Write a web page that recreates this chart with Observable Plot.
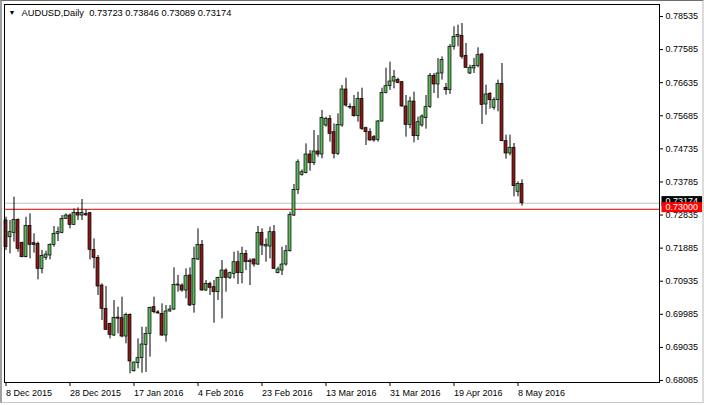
<!DOCTYPE html>
<html><head><meta charset="utf-8">
<script src="https://cdn.jsdelivr.net/npm/d3@7"></script>
<script src="https://cdn.jsdelivr.net/npm/@observablehq/plot@0.6"></script>
<style>
html,body{margin:0;padding:0;background:#fff;}
#wrap{position:relative;width:704px;height:405px;overflow:hidden;background:#fff;}
#wrap svg{display:block;}
#border{position:absolute;left:0;top:0;width:704px;height:403px;box-sizing:border-box;border-top:1px solid #6e6e6e;border-left:2px solid #a0a0a0;border-right:2px solid #dcdcdc;border-bottom:1px solid #c8c8c8;pointer-events:none;}
</style></head><body>
<div id="wrap"><div id="border"></div></div>
<script>
const symbol = "AUDUSD";
const timeframe = "Daily";

const opens = [0.72678,0.72199,0.72324,0.72697,0.72036,0.71625,0.72524,0.72027,0.72008,0.71290,
0.71606,0.71673,0.71979,0.72295,0.72324,0.72726,0.72821,0.72553,0.72898,0.72821,
0.72860,0.72888,0.71835,0.71606,0.70811,0.70142,0.69711,0.69376,0.69890,0.69874,
0.69347,0.69969,0.68352,0.68582,0.68725,0.69108,0.69424,0.70190,0.70040,0.69998,
0.69376,0.70065,0.70122,0.70811,0.70811,0.70668,0.71099,0.70256,0.71558,0.71979,
0.70668,0.70859,0.70764,0.70620,0.71032,0.71242,0.71032,0.71146,0.71481,0.71166,
0.71721,0.71481,0.71558,0.71414,0.72324,0.71931,0.71931,0.72343,0.71166,0.71242,
0.71414,0.71797,0.72821,0.73558,0.73989,0.74037,0.74573,0.74324,0.74659,0.74573,
0.75405,0.75597,0.75214,0.74592,0.75405,0.76439,0.75941,0.75932,0.75673,0.76171,
0.75329,0.75214,0.75070,0.74994,0.75520,0.76343,0.76534,0.76668,0.76716,0.76649,
0.75951,0.75424,0.76094,0.75099,0.75405,0.75616,0.75942,0.76832,0.76583,0.76899,
0.76487,0.76420,0.77665,0.77952,0.77980,0.77406,0.76899,0.77043,0.77110,0.77444,
0.76009,0.76315,0.75913,0.76133,0.76602,0.74956,0.74602,0.74765,0.73502,0.73723];

const highs = [0.72773,0.72678,0.73348,0.72726,0.72056,0.72773,0.72869,0.72295,0.72056,0.71816,
0.71797,0.72008,0.72505,0.72486,0.72821,0.72869,0.72869,0.73013,0.73041,0.73281,
0.72984,0.72907,0.72151,0.71673,0.70859,0.70783,0.69730,0.70381,0.70190,0.70477,
0.70017,0.69998,0.68610,0.69280,0.69615,0.69615,0.70190,0.70477,0.70094,0.70285,
0.70237,0.70237,0.71319,0.71099,0.70859,0.71290,0.71319,0.71912,0.72438,0.72103,
0.70955,0.70907,0.70955,0.71051,0.71529,0.71290,0.71194,0.71769,0.71797,0.71912,
0.71816,0.71577,0.71577,0.72505,0.72438,0.72151,0.72486,0.72534,0.71338,0.71912,
0.71960,0.72917,0.73711,0.74419,0.74132,0.74879,0.74687,0.75262,0.75118,0.75836,
0.75644,0.75692,0.75453,0.75740,0.76554,0.76764,0.76027,0.76267,0.76362,0.76477,
0.75357,0.75310,0.75118,0.75549,0.76477,0.77051,0.77224,0.76984,0.76764,0.76668,
0.76267,0.76219,0.76362,0.75645,0.75711,0.76267,0.76899,0.76899,0.77330,0.77377,
0.76612,0.77732,0.78239,0.78287,0.78334,0.77760,0.77138,0.77330,0.77636,0.77473,
0.76564,0.76353,0.76200,0.76708,0.77186,0.75129,0.75129,0.74889,0.73789,0.73846];

const lows = [0.71816,0.71721,0.72056,0.71769,0.71606,0.71606,0.71577,0.71740,0.70974,0.71146,
0.71529,0.71548,0.71912,0.72075,0.72295,0.72706,0.72438,0.72534,0.72678,0.72678,
0.72802,0.71548,0.71290,0.70524,0.69807,0.69520,0.69280,0.69347,0.69424,0.69309,
0.69137,0.68276,0.68323,0.68419,0.68295,0.68314,0.68754,0.69998,0.69988,0.69347,
0.69185,0.70046,0.70094,0.70620,0.70620,0.70429,0.70210,0.70017,0.71529,0.70649,
0.70639,0.70524,0.69730,0.70381,0.69855,0.70620,0.70984,0.71003,0.70840,0.70859,
0.71242,0.70812,0.71338,0.71386,0.71673,0.71481,0.71577,0.71271,0.71147,0.71099,
0.71367,0.71769,0.72793,0.73424,0.73950,0.74018,0.74094,0.74257,0.74496,0.74448,
0.75357,0.74927,0.74448,0.74544,0.75357,0.75932,0.75865,0.75644,0.75501,0.75262,
0.74831,0.74955,0.74927,0.74927,0.75501,0.76314,0.76410,0.76458,0.76601,0.75932,
0.75070,0.75310,0.74908,0.74975,0.75357,0.75300,0.75894,0.76325,0.76181,0.76708,
0.76277,0.76296,0.77569,0.77665,0.77310,0.77043,0.76870,0.76899,0.77062,0.75435,
0.75703,0.75875,0.75846,0.75798,0.74937,0.74439,0.74535,0.73358,0.73358,0.73089];

const closes = [0.71912,0.72343,0.72697,0.71864,0.71625,0.72524,0.71979,0.71979,0.71290,0.71663,
0.71701,0.71979,0.72295,0.72343,0.72726,0.72821,0.72553,0.72898,0.72821,0.72898,
0.72825,0.71835,0.71606,0.70783,0.70142,0.69539,0.69395,0.69883,0.69860,0.69347,
0.69969,0.68630,0.68601,0.68725,0.69118,0.69424,0.70170,0.70046,0.70010,0.69376,
0.70065,0.70122,0.70831,0.70840,0.70668,0.71079,0.70237,0.71577,0.71979,0.70668,
0.70859,0.70745,0.70620,0.71032,0.71242,0.71032,0.71166,0.71481,0.71166,0.71721,
0.71481,0.71520,0.71414,0.72324,0.71960,0.71979,0.72343,0.71290,0.71271,0.71414,
0.71797,0.72840,0.73558,0.74352,0.74065,0.74573,0.74324,0.74659,0.74573,0.75625,
0.75597,0.75166,0.74592,0.75424,0.76439,0.75979,0.75922,0.75673,0.76171,0.75310,
0.75214,0.74975,0.74975,0.75520,0.76343,0.76534,0.76668,0.76793,0.76630,0.75951,
0.75424,0.76094,0.75099,0.75501,0.75664,0.75932,0.76832,0.76583,0.76899,0.77282,
0.76420,0.77665,0.77952,0.78000,0.77377,0.77062,0.77062,0.77110,0.77425,0.75990,
0.76296,0.76133,0.76133,0.76602,0.74956,0.74602,0.74765,0.73664,0.73722,0.73174];

const yTicks = [0.78535,0.77585,0.76635,0.75685,0.74735,0.73785,0.72835,0.71885,0.70935,0.69985,0.69035,0.68085];
const xTickIdx = [0,16,32,48,64,80,96,112,128];
const xTickLabels = ["8 Dec 2015","28 Dec 2015","17 Jan 2016","4 Feb 2016","23 Feb 2016","13 Mar 2016","31 Mar 2016","19 Apr 2016","8 May 2016"];
const levelPrice = 0.73000;

const bullColor = "#5cb85c";
const bearColor = "#8b1a1a";

const fmt = d3.format(".5f");
const candles = opens.map((o, i) => ({i, o, h: highs[i], l: lows[i], c: closes[i]}));
const bulls = candles.filter(d => d.c >= d.o);
const bears = candles.filter(d => d.c < d.o);
const last = candles[candles.length - 1];
const header = `${symbol},${timeframe}  ${fmt(last.o)} ${fmt(last.h)} ${fmt(last.l)} ${fmt(last.c)}`;
const priceLabels = [{p: last.c, bg: "#000000"}, {p: levelPrice, bg: "#ff0000"}];

const bodyOpts = (fill) => ({
  x1: d => d.i - 0.375, x2: d => d.i + 0.375,
  y1: "o", y2: "c",
  fill, stroke: "#000", strokeWidth: 0.7
});

const chart = Plot.plot({
  width: 704,
  height: 405,
  marginLeft: 4,
  marginRight: 45,
  marginTop: 4,
  marginBottom: 23,
  style: {fontFamily: "'Liberation Sans', Arial, sans-serif", fontSize: "9px", color: "#000", background: "transparent"},
  x: {type: "linear", domain: [-0.375, 163.375], label: null},
  y: {type: "linear", domain: [0.68027, 0.788795], label: null},
  marks: [
    Plot.ruleY([last.c], {stroke: "#c0c0c0", strokeWidth: 1}),
    Plot.ruleY([levelPrice], {stroke: "#dd0000", strokeWidth: 1}),
    Plot.ruleX(candles, {x: "i", y1: "l", y2: "h", stroke: "#000", strokeWidth: 1}),
    Plot.rect(bulls, bodyOpts(bullColor)),
    Plot.rect(bears, bodyOpts(bearColor)),
    Plot.frame({stroke: "#000", strokeWidth: 1}),
    Plot.axisY(yTicks, {anchor: "right", label: null, tickSize: 3, tickPadding: 3, tickFormat: fmt, fill: "#000"}),
    Plot.axisX(xTickIdx, {anchor: "bottom", label: null, tickSize: 4, tickPadding: 3, textAnchor: "start", dx: 0,
      tickFormat: d => xTickLabels[xTickIdx.indexOf(d)], fill: "#000"}),
    Plot.text(["\u25BC"], {frameAnchor: "top-left", dx: 4, dy: 6, fontSize: 7, fill: "#000"}),
    Plot.text([header], {frameAnchor: "top-left", dx: 17, dy: 5, fill: "#000", fontSize: 9.3}),
    Plot.text(priceLabels, {y: "p", text: d => fmt(d.p), frameAnchor: "right", textAnchor: "start",
      dx: 6, dy: -2, fill: "#fff"})
  ]
});
document.getElementById("wrap").prepend(chart);

// paint label boxes behind the price labels
priceLabels.forEach(lbl => {
  const s = fmt(lbl.p);
  chart.querySelectorAll("text").forEach(t => {
    if (t.textContent !== s) return;
    const bb = t.getBBox();
    const r = document.createElementNS("http://www.w3.org/2000/svg", "rect");
    r.setAttribute("x", bb.x - 4);
    r.setAttribute("y", bb.y);
    r.setAttribute("width", bb.width + 10);
    r.setAttribute("height", bb.height);
    r.setAttribute("fill", lbl.bg);
    if (t.getAttribute("transform")) r.setAttribute("transform", t.getAttribute("transform"));
    t.parentNode.insertBefore(r, t);
  });
});
</script>
</body></html>
